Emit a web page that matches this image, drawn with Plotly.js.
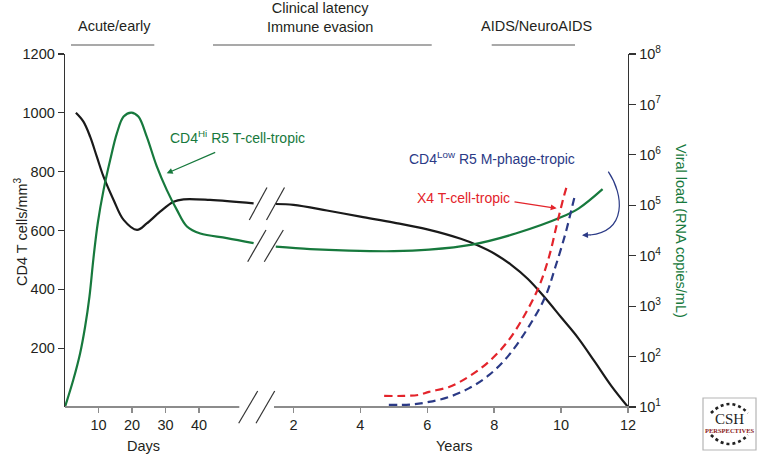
<!DOCTYPE html>
<html>
<head>
<meta charset="utf-8">
<script src="https://cdn.plot.ly/plotly-3.0.1.min.js"></script>
<style>html,body{margin:0;padding:0;background:#fff}#chart{width:760px;height:455px}</style>
</head>
<body>
<div id="chart"></div>
<script>
// ---- Data ----
// CD4 T cells/mm3, early phase (days)
const cd4Days = [3.25, 5.5, 7.5, 9.5, 11.5, 14.5, 17.5, 21.5, 24.4, 28.4, 32.4, 35.4, 43.3, 56.3];
const cd4DaysVal = [1000, 970, 919, 851, 783, 704, 636, 602, 624, 664, 698, 706, 704, 692];
// CD4 T cells/mm3, later phase (years)
const cd4Years = [1.47, 2, 3, 4, 5, 6, 7, 7.5, 8, 8.5, 9, 9.5, 10, 10.5, 11, 11.5, 12];
const cd4YearsVal = [690, 687, 668, 647, 627, 604, 572, 550, 522, 484, 436, 374, 305, 236, 155, 72, 0];
// Viral load (RNA copies/mL), CD4Hi R5 T-cell-tropic, early phase (days)
const vlDays = [0, 2.5, 4.5, 6.0, 7.3, 8.5, 9.8, 11.5, 13.5, 15.5, 17.5, 19.8, 21.9, 24.4, 27.4, 30.4, 33.4, 36.4, 40.4, 48.3, 56.3];
const vlDaysVal = [10, 35, 115, 390, 1550, 9000, 45000, 200000, 800000, 2700000, 5750000, 6900000, 5750000, 2300000, 590000, 200000, 81000, 38000, 27500, 22400, 17800];
// Viral load, CD4Hi R5 T-cell-tropic, later phase (years)
const vlYears = [1.47, 2.5, 3.66, 5, 6.05, 7.34, 8.64, 10.03, 10.53, 11.24];
const vlYearsVal = [15100, 13500, 12600, 12300, 13200, 16600, 27500, 59000, 87000, 209000];
// Viral load, X4 T-cell-tropic (years)
const x4Years = [4.71, 5.3, 5.75, 6.05, 6.65, 7.24, 7.84, 8.44, 8.94, 9.34, 9.64, 9.88, 10.08, 10.18];
const x4Val = [16.6, 16.6, 17.4, 20, 25, 40, 79, 214, 724, 2450, 9550, 43600, 148000, 251000];
// Viral load, CD4Low R5 M-phage-tropic (years)
const mYears = [4.85, 5.5, 6.05, 6.65, 7.24, 7.84, 8.44, 9.03, 9.53, 9.83, 10.13, 10.33, 10.43];
const mVal = [11, 11.2, 12.6, 15.8, 23.4, 42.7, 107, 389, 1550, 6030, 27500, 93300, 174000];
// Tick labels
const dayTicks = [10, 20, 30, 40];
const yearTicks = [2, 4, 6, 8, 10, 12];
const cd4Ticks = [200, 400, 600, 800, 1000, 1200];
const vlTicks = [1e1, 1e2, 1e3, 1e4, 1e5, 1e6, 1e7, 1e8];
const vlTickText = ['10<sup>1</sup>','10<sup>2</sup>','10<sup>3</sup>','10<sup>4</sup>','10<sup>5</sup>','10<sup>6</sup>','10<sup>7</sup>','10<sup>8</sup>'];
const phases = ['Acute/early', 'Clinical latency<br>Immune evasion', 'AIDS/NeuroAIDS'];

// ---- Styling ----
const GREEN = '#17793d', BLACK = '#1a1a1a', RED = '#e3242b', NAVY = '#2b3a86', GRAY = '#8c8c8c';
const FONT = 'Liberation Sans, Arial, sans-serif';
const L = 65, R = 132, T = 54, B = 48, W = 760, H = 455;
const PW = W - L - R, PH = H - T - B;
const px = x => (x - L) / PW;
const py = y => (H - B - y) / PH;

const traces = [
  {x: cd4Days, y: cd4DaysVal, xaxis: 'x', yaxis: 'y', mode: 'lines', line: {color: BLACK, width: 2.2, shape: 'spline', smoothing: 1}, hoverinfo: 'skip'},
  {x: cd4Years, y: cd4YearsVal, xaxis: 'x2', yaxis: 'y', mode: 'lines', line: {color: BLACK, width: 2.2, shape: 'spline', smoothing: 1}, hoverinfo: 'skip'},
  {x: vlDays, y: vlDaysVal, xaxis: 'x', yaxis: 'y2', mode: 'lines', line: {color: GREEN, width: 2.2, shape: 'spline', smoothing: 1}, hoverinfo: 'skip'},
  {x: vlYears, y: vlYearsVal, xaxis: 'x2', yaxis: 'y2', mode: 'lines', line: {color: GREEN, width: 2.2, shape: 'spline', smoothing: 1}, hoverinfo: 'skip'},
  {x: x4Years, y: x4Val, xaxis: 'x2', yaxis: 'y2', mode: 'lines', line: {color: RED, width: 2.2, dash: '8px,5px', shape: 'spline', smoothing: 1}, hoverinfo: 'skip'},
  {x: mYears, y: mVal, xaxis: 'x2', yaxis: 'y2', mode: 'lines', line: {color: NAVY, width: 2.2, dash: '8px,5px', shape: 'spline', smoothing: 1}, hoverinfo: 'skip'}
];

const tickFont = {family: FONT, size: 14.5, color: '#231f20'};
const layout = {
  width: W, height: H,
  margin: {l: L, r: R, t: T, b: B, pad: 0},
  paper_bgcolor: '#fff', plot_bgcolor: 'rgba(0,0,0,0)',
  showlegend: false,
  font: {family: FONT, color: '#231f20'},
  xaxis: {domain: [0, 1], range: [0, PW / 3.35], tickvals: dayTicks, ticktext: dayTicks.map(String),
    ticks: 'outside', ticklen: 5, tickwidth: 1.5, tickcolor: GRAY, showline: false, showgrid: false, zeroline: false,
    tickfont: tickFont, anchor: 'y'},
  xaxis2: {overlaying: 'x', side: 'bottom', anchor: 'y', range: [12 - PW / 33.45, 12], tickvals: yearTicks, ticktext: yearTicks.map(String),
    ticks: 'outside', ticklen: 5, tickwidth: 1.5, tickcolor: GRAY, showline: false, showgrid: false, zeroline: false,
    tickfont: tickFont},
  yaxis: {range: [0, 1200], tickvals: cd4Ticks, ticktext: cd4Ticks.map(String), ticks: 'outside', ticklen: 6, tickwidth: 1.2,
    tickcolor: '#333', showline: true, linecolor: '#333', linewidth: 1.3, showgrid: false, zeroline: false, tickfont: tickFont, anchor: 'x'},
  yaxis2: {type: 'log', range: [1, 8], overlaying: 'y', side: 'right', anchor: 'x', tickvals: vlTicks, ticktext: vlTickText,
    ticks: 'outside', ticklen: 7, tickwidth: 1.2, tickcolor: '#333', showline: true, linecolor: '#333', linewidth: 1.3,
    showgrid: false, zeroline: false, tickfont: tickFont},
  shapes: [],
  annotations: []
};

const S = layout.shapes, A = layout.annotations;
const seg = (x0, y0, x1, y1, color, width) => S.push({type: 'line', xref: 'paper', yref: 'paper', x0: px(x0), y0: py(y0), x1: px(x1), y1: py(y1), line: {color: color, width: width}});
// x-axis line with break
seg(65, 407, 239.3, 407, GRAY, 2.2);
seg(274, 407, 629, 407, GRAY, 2.2);
seg(238.7, 423.3, 257.7, 391, '#333', 1.2);
seg(256, 423.3, 274.7, 391, '#333', 1.2);
// break marks on curves
seg(249.3, 220, 267, 187.5, '#333', 1.2);
seg(266.5, 220, 284.5, 187.5, '#333', 1.2);
seg(247.7, 261.7, 266, 230, '#333', 1.2);
seg(264.3, 261.7, 283.3, 230, '#333', 1.2);
// phase lines
seg(71, 45, 154.3, 45, GRAY, 1.6);
seg(213, 45, 431.7, 45, GRAY, 1.6);
seg(491.7, 45, 575, 45, GRAY, 1.6);

const txt = (x, y, text, opts) => A.push(Object.assign({xref: 'paper', yref: 'paper', x: px(x), y: py(y), text: text, showarrow: false,
  xanchor: 'center', yanchor: 'middle', font: {family: FONT, size: 14.5, color: '#231f20'}}, opts || {}));
txt(114.7, 26, phases[0]);
txt(320, 17, phases[1]);
txt(536.7, 26, phases[2]);
txt(143, 446, 'Days');
txt(454, 446, 'Years');
txt(21, 231, 'CD4 T cells/mm<sup>3</sup>', {textangle: -90});
txt(681, 231, 'Viral load (RNA copies/mL)', {textangle: 90, font: {family: FONT, size: 14.5, color: GREEN}});
txt(168, 137, 'CD4<sup>Hi</sup> R5 T-cell-tropic', {xanchor: 'left', font: {family: FONT, size: 14, color: GREEN}});
txt(406.7, 158.3, 'CD4<sup>Low</sup> R5 M-phage-tropic', {xanchor: 'left', font: {family: FONT, size: 14, color: NAVY}});
txt(415, 198.3, 'X4 T-cell-tropic', {xanchor: 'left', font: {family: FONT, size: 14, color: RED}});

const arrow = (hx, hy, tx, ty, color) => A.push({xref: 'paper', yref: 'paper', x: px(hx), y: py(hy), ax: tx - hx, ay: ty - hy,
  axref: 'pixel', ayref: 'pixel', text: '', showarrow: true, arrowhead: 2, arrowsize: 1, arrowwidth: 1.2, arrowcolor: color});
arrow(166.7, 173.3, 216.7, 151.7, GREEN);
arrow(556.7, 208.3, 513, 201.7, RED);
// curved blue arrow
S.push({type: 'path', xref: 'paper', yref: 'paper',
  path: `M ${px(608.3)},${py(171.7)} C ${px(624)},${py(195)} ${px(627)},${py(231)} ${px(590)},${py(235)}`,
  line: {color: NAVY, width: 1.2}});
arrow(582, 235.3, 592, 234.8, NAVY);

// CSH Perspectives logo box
S.push({type: 'rect', xref: 'paper', yref: 'paper', x0: px(703), y0: py(450), x1: px(756), y1: py(398), line: {color: '#b5b5b5', width: 1.2}, fillcolor: '#fff'});
S.push({type: 'path', xref: 'paper', yref: 'paper', path: `M ${px(711)},${py(413)} Q ${px(729.5)},${py(395)} ${px(748)},${py(413)}`, line: {color: '#222', width: 2.6, dash: 'dot'}});
S.push({type: 'path', xref: 'paper', yref: 'paper', path: `M ${px(711)},${py(435)} Q ${px(729.5)},${py(453)} ${px(748)},${py(435)}`, line: {color: '#222', width: 2.6, dash: 'dot'}});
txt(729.5, 419, 'CSH', {font: {family: 'Liberation Serif, DejaVu Serif, serif', size: 15, color: '#222'}});
txt(729.5, 430, '<b>PERSPECTIVES</b>', {font: {family: 'Liberation Serif, DejaVu Serif, serif', size: 6.5, color: '#8b1a1a'}});

Plotly.newPlot('chart', traces, layout, {staticPlot: true, displayModeBar: false});
</script>
</body>
</html>
